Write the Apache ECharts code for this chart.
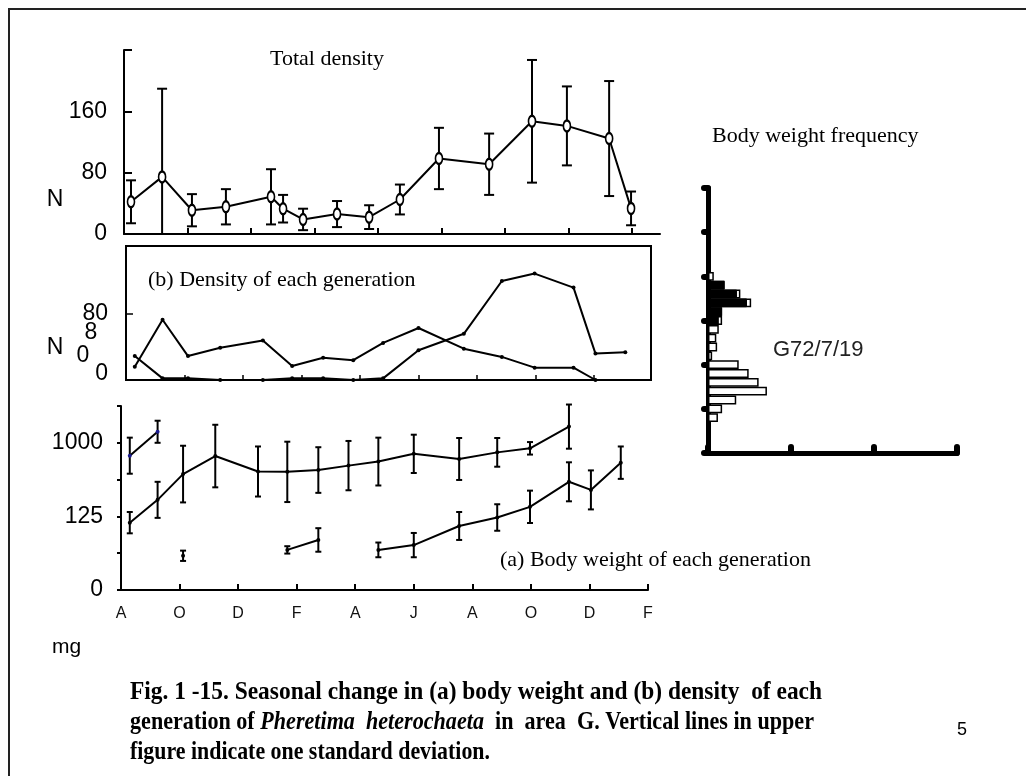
<!DOCTYPE html>
<html>
<head>
<meta charset="utf-8">
<script src="https://cdn.jsdelivr.net/npm/echarts@6/dist/echarts.min.js"></script>
<style>
  html, body { margin: 0; padding: 0; background: #fff; }
  #chart { width: 1026px; height: 776px; }
</style>
</head>
<body>
<div id="chart"></div>
<script>
// ---- Total density (upper figure): sampling dates in months from 1 August, mean N and SD
const densityMonths = [0.22, 1.20, 2.14, 3.21, 4.63, 5.01, 5.64, 6.71, 7.72, 8.69, 9.92, 11.50, 12.85, 13.95, 15.28, 15.97];
const totalDensity   = [42, 74.5, 31, 35.5, 48.5, 33, 19, 26, 22, 45, 98.5, 91, 147, 141, 124.5, 33.4];
const totalDensitySD = [28, 115, 21, 23, 36, 18, 14, 17, 15.5, 19.5, 40, 40, 80, 51.5, 75, 22];

// ---- Sampling dates for (a) and (b), months from 1 August
const sampleMonths = [0.3, 1.25, 2.12, 3.22, 4.68, 5.68, 6.74, 7.77, 8.79, 10.0, 11.55, 12.85, 13.97, 15.3, 16.05, 17.07];

// ---- (b) Density of each generation
const densityGenA = [29, 2, 2, 0, 0, 2, 2, 0, 2, 36, 56, 120, 129, 112, 32, 33.5];
const densityGenB = [16, 73, 29, 39, 48, 17, 27, 24, 45, 63, 38, 28, 15, 15, 0, null];

// ---- (a) Body weight of each generation (in axis steps), with SD
const weightGen0   = [3.65, 4.30, null, null, null, null, null, null, null, null, null, null, null, null, null, null];
const weightGen0SD = [0.49, 0.30, null, null, null, null, null, null, null, null, null, null, null, null, null, null];
const weightGen1   = [1.83, 2.45, 3.15, 3.64, 3.22, 3.21, 3.26, 3.38, 3.49, 3.70, 3.56, 3.74, 3.85, 4.44, null, null];
const weightGen1SD = [0.29, 0.49, 0.77, 0.85, 0.68, 0.82, 0.62, 0.67, 0.65, 0.52, 0.57, 0.39, 0.17, 0.60, null, null];
const weightGen2   = [null, null, 0.93, null, null, 1.09, 1.36, null, 1.09, 1.22, 1.74, 1.97, 2.26, 2.94, 2.72, 3.46];
const weightGen2SD = [null, null, 0.14, null, null, 0.10, 0.32, null, 0.20, 0.33, 0.38, 0.36, 0.44, 0.53, 0.53, 0.44];
const weightTickLabels = ['0', '', '125', '', '1000', ''];
const monthTickLabels = ['A', 'O', 'D', 'F', 'A', 'J', 'A', 'O', 'D', 'F'];

// ---- Body weight frequency (G72/7/19): weight classes 0..30, frequency (%)
const weightClasses = Array.from({ length: 31 }, (_, i) => String(i));
const freqAll = [null, null, null, null, 1.2, 1.7, 3.4, 7.1, 6.1, 4.9, 3.7, 0.5, 1.1, 1.0, 1.3, 1.7, 1.7, 5.2, 3.9, 2.0, 0.7,
                 null, null, null, null, null, null, null, null, null, null];
const freqOld = [null, null, null, null, null, null, null, null, null, null, null, null, null, null, null, 1.3, 1.7, 4.7, 3.5, 2.0, null,
                 null, null, null, null, null, null, null, null, null, null];

// ---- Caption
const captionLine1 = 'Fig. 1 -15. Seasonal change in (a) body weight and (b) density  of each';
const captionLine2 = ['generation of ', 'Pheretima  heterochaeta', '  in  area  G. Vertical lines in upper'];
const captionLine3 = 'figure indicate one standard deviation.';

const SANS = '"Liberation Sans", Arial, sans-serif';
const SERIF = '"Liberation Serif", "Times New Roman", serif';
const INK = '#000';
const CAP_SIZE = 26;

function zip(xs, ys) { return xs.map((x, i) => [x, ys[i] == null ? null : ys[i]]); }
function errorData(xs, mean, sd) {
  const out = [];
  for (let i = 0; i < xs.length; i++) {
    if (mean[i] != null && sd[i] != null) out.push([xs[i], Math.max(0, mean[i] - sd[i]), mean[i] + sd[i]]);
  }
  return out;
}
function errorBars(capHalf, width) {
  return function (params, api) {
    const x = api.value(0);
    const top = api.coord([x, api.value(2)]);
    const bot = api.coord([x, api.value(1)]);
    const st = { stroke: INK, lineWidth: width };
    return {
      type: 'group',
      children: [
        { type: 'line', shape: { x1: top[0], y1: top[1], x2: bot[0], y2: bot[1] }, style: st },
        { type: 'line', shape: { x1: top[0] - capHalf, y1: top[1], x2: top[0] + capHalf, y2: top[1] }, style: st },
        { type: 'line', shape: { x1: bot[0] - capHalf, y1: bot[1], x2: bot[0] + capHalf, y2: bot[1] }, style: st }
      ]
    };
  };
}

// caption is set in a condensed bold serif: each line is fitted to its printed width
const meas = document.createElement('canvas').getContext('2d');
function textWidth(str, italic) {
  meas.font = (italic ? 'italic ' : '') + 'bold ' + CAP_SIZE + 'px "Liberation Serif"';
  return meas.measureText(str).width;
}
const capScale1 = 692 / textWidth(captionLine1);
const capScale2 = 684 / (textWidth(captionLine2[0]) + textWidth(captionLine2[1], true) + textWidth(captionLine2[2]));
const capScale3 = 360 / textWidth(captionLine3);

const axisLine = (w) => ({ show: true, lineStyle: { color: INK, width: w || 2 } });
const evenTicks = (from, to) => { const a = []; for (let v = from; v <= to; v += 2) a.push(v); return a; };

const chart = echarts.init(document.getElementById('chart'), null, { renderer: 'canvas' });

chart.setOption({
  animation: false,
  backgroundColor: '#fff',
  grid: [
    { left: 124, top: 50, width: 536, height: 184 },
    { left: 126, top: 246, width: 525, height: 134, show: true, borderColor: INK, borderWidth: 2, backgroundColor: 'transparent' },
    { left: 121, top: 406, width: 527, height: 184 },
    { left: 708, top: 188, width: 249, height: 265 }
  ],
  xAxis: [
    {
      type: 'value', gridIndex: 0, min: 0, max: 536 / 31.75,
      axisLine: axisLine(), splitLine: { show: false },
      axisTick: { show: true, inside: true, length: 6, customValues: evenTicks(2, 16), lineStyle: { color: INK, width: 2 } },
      axisLabel: { show: false }
    },
    {
      type: 'value', gridIndex: 1, min: 0, max: 525 / 29.25,
      axisLine: axisLine(), splitLine: { show: false },
      axisTick: { show: true, inside: true, length: 5, customValues: evenTicks(2, 16), lineStyle: { color: INK, width: 1.5 } },
      axisLabel: { show: false }
    },
    {
      type: 'value', gridIndex: 2, min: 0, max: 18, interval: 2,
      axisLine: axisLine(), splitLine: { show: false },
      axisTick: { show: true, inside: true, length: 6, lineStyle: { color: INK, width: 2 } },
      axisLabel: {
        show: true, margin: 16, color: '#111', fontFamily: SANS, fontSize: 16,
        showMinLabel: true, showMaxLabel: true,
        formatter: (v) => monthTickLabels[Math.round(v / 2)] || ''
      }
    },
    {
      type: 'value', gridIndex: 3, min: 0, max: 30,
      axisLine: { show: true, lineStyle: { color: INK, width: 5, cap: 'round' } },
      splitLine: { show: false },
      axisTick: { show: true, inside: true, length: 6, customValues: [0, 10, 20, 30], lineStyle: { color: INK, width: 6, cap: 'round' } },
      axisLabel: { show: false }
    }
  ],
  yAxis: [
    {
      type: 'value', gridIndex: 0, min: 0, max: 240, interval: 80,
      axisLine: axisLine(), splitLine: { show: false },
      axisTick: { show: true, inside: true, length: 8, lineStyle: { color: INK, width: 2 } },
      axisLabel: { show: true, margin: 17, color: INK, fontFamily: SANS, fontSize: 23, customValues: [0, 80, 160] }
    },
    {
      type: 'value', gridIndex: 1, min: 0, max: 134 * 80 / 66,
      axisLine: axisLine(), splitLine: { show: false },
      axisTick: { show: true, inside: true, length: 7, customValues: [80], lineStyle: { color: INK, width: 1.5 } },
      axisLabel: {
        show: true, margin: 18, color: INK, fontFamily: SANS, fontSize: 23, customValues: [0, 80],
        formatter: (v) => (v === 0 ? '{lo|0}' : String(v)),
        rich: { lo: { fontFamily: SANS, fontSize: 23, color: INK, padding: [0, 0, 12, 0] } }
      }
    },
    {
      type: 'value', gridIndex: 2, min: 0, max: 5, interval: 1,
      axisLine: axisLine(), splitLine: { show: false },
      axisTick: { show: true, inside: false, length: 4, lineStyle: { color: INK, width: 2 } },
      axisLabel: { show: true, margin: 18, color: INK, fontFamily: SANS, fontSize: 23, formatter: (v) => weightTickLabels[Math.round(v)] || '' }
    },
    {
      type: 'category', gridIndex: 3, data: weightClasses, boundaryGap: false,
      axisLine: { show: true, lineStyle: { color: INK, width: 5, cap: 'round' } },
      splitLine: { show: false },
      axisTick: { show: true, inside: false, interval: 4, length: 4, lineStyle: { color: INK, width: 6, cap: 'round' } },
      axisLabel: { show: false }
    }
  ],
  series: [
    // Total density
    {
      type: 'custom', xAxisIndex: 0, yAxisIndex: 0, z: 2, clip: false,
      renderItem: errorBars(5, 2), data: errorData(densityMonths, totalDensity, totalDensitySD)
    },
    {
      type: 'line', xAxisIndex: 0, yAxisIndex: 0, z: 3,
      data: zip(densityMonths, totalDensity),
      symbol: 'emptyCircle', symbolSize: [7, 11], showSymbol: true, showAllSymbol: true,
      lineStyle: { color: INK, width: 2 },
      itemStyle: { color: INK, borderWidth: 2 }
    },
    // (b) Density of each generation
    {
      type: 'line', xAxisIndex: 1, yAxisIndex: 1, z: 3,
      data: zip(sampleMonths, densityGenA), symbol: 'circle', symbolSize: 4,
      lineStyle: { color: INK, width: 2 }, itemStyle: { color: INK }
    },
    {
      type: 'line', xAxisIndex: 1, yAxisIndex: 1, z: 3,
      data: zip(sampleMonths, densityGenB), symbol: 'circle', symbolSize: 4,
      lineStyle: { color: INK, width: 2 }, itemStyle: { color: INK }
    },
    // (a) Body weight of each generation
    { type: 'custom', xAxisIndex: 2, yAxisIndex: 2, z: 2, clip: false, renderItem: errorBars(3, 2), data: errorData(sampleMonths, weightGen0, weightGen0SD) },
    { type: 'custom', xAxisIndex: 2, yAxisIndex: 2, z: 2, clip: false, renderItem: errorBars(3, 2), data: errorData(sampleMonths, weightGen1, weightGen1SD) },
    { type: 'custom', xAxisIndex: 2, yAxisIndex: 2, z: 2, clip: false, renderItem: errorBars(3, 2), data: errorData(sampleMonths, weightGen2, weightGen2SD) },
    {
      type: 'line', xAxisIndex: 2, yAxisIndex: 2, z: 3,
      data: zip(sampleMonths, weightGen0), symbol: 'circle', symbolSize: 4,
      lineStyle: { color: INK, width: 2 }, itemStyle: { color: '#1b1b8f' }
    },
    {
      type: 'line', xAxisIndex: 2, yAxisIndex: 2, z: 3,
      data: zip(sampleMonths, weightGen1), symbol: 'circle', symbolSize: 4,
      lineStyle: { color: INK, width: 2 }, itemStyle: { color: INK }
    },
    {
      type: 'line', xAxisIndex: 2, yAxisIndex: 2, z: 3,
      data: zip(sampleMonths, weightGen2), symbol: 'circle', symbolSize: 4,
      lineStyle: { color: INK, width: 2 }, itemStyle: { color: INK }
    },
    // Body weight frequency
    {
      type: 'bar', xAxisIndex: 3, yAxisIndex: 3, z: 2,
      data: freqAll, barWidth: 8.8,
      itemStyle: { color: '#fff', borderColor: INK, borderWidth: 1.5 }
    },
    {
      type: 'bar', xAxisIndex: 3, yAxisIndex: 3, z: 2,
      data: freqOld, barWidth: 8.8, barGap: '-100%',
      itemStyle: { color: INK, borderColor: INK, borderWidth: 1 }
    }
  ],
  graphic: [
    { type: 'polyline', silent: true, shape: { points: [[9, 780], [9, 9], [1030, 9]] }, style: { stroke: '#222', lineWidth: 2, fill: null } },
    { type: 'text', x: 270, y: 59, style: { text: 'Total density', font: '22px ' + SERIF, fill: INK, verticalAlign: 'middle' } },
    { type: 'text', x: 148, y: 280, style: { text: '(b) Density of each generation', font: '22px ' + SERIF, fill: INK, verticalAlign: 'middle' } },
    { type: 'text', x: 500, y: 560, style: { text: '(a) Body weight of each generation', font: '22px ' + SERIF, fill: INK, verticalAlign: 'middle' } },
    { type: 'text', x: 712, y: 136, style: { text: 'Body weight frequency', font: '22px ' + SERIF, fill: INK, verticalAlign: 'middle' } },
    { type: 'text', x: 773, y: 350, style: { text: 'G72/7/19', font: '22px ' + SANS, fill: '#222', verticalAlign: 'middle' } },
    { type: 'text', x: 55, y: 200, style: { text: 'N', font: '23px ' + SANS, fill: INK, align: 'center', verticalAlign: 'middle' } },
    { type: 'text', x: 55, y: 348, style: { text: 'N', font: '23px ' + SANS, fill: INK, align: 'center', verticalAlign: 'middle' } },
    { type: 'text', x: 91, y: 333, style: { text: '8', font: '23px ' + SANS, fill: INK, align: 'center', verticalAlign: 'middle' } },
    { type: 'text', x: 83, y: 356, style: { text: '0', font: '23px ' + SANS, fill: INK, align: 'center', verticalAlign: 'middle' } },
    { type: 'text', x: 52, y: 647, style: { text: 'mg', font: '21px ' + SANS, fill: INK, verticalAlign: 'middle' } },
    { type: 'text', x: 962, y: 730, style: { text: '5', font: '18px ' + SANS, fill: INK, align: 'center', verticalAlign: 'middle' } },
    {
      type: 'text', x: 130, y: 692, scaleX: capScale1,
      style: { text: captionLine1, font: 'bold ' + CAP_SIZE + 'px ' + SERIF, fill: INK, verticalAlign: 'middle' }
    },
    {
      type: 'text', x: 130, y: 722, scaleX: capScale2,
      style: {
        text: captionLine2[0] + '{it|' + captionLine2[1] + '}' + captionLine2[2],
        font: 'bold ' + CAP_SIZE + 'px ' + SERIF, fill: INK, verticalAlign: 'middle',
        rich: { it: { fontStyle: 'italic', fontWeight: 'bold', fontSize: CAP_SIZE, fontFamily: SERIF, fill: INK } }
      }
    },
    {
      type: 'text', x: 130, y: 752, scaleX: capScale3,
      style: { text: captionLine3, font: 'bold ' + CAP_SIZE + 'px ' + SERIF, fill: INK, verticalAlign: 'middle' }
    }
  ]
});
</script>
</body>
</html>
